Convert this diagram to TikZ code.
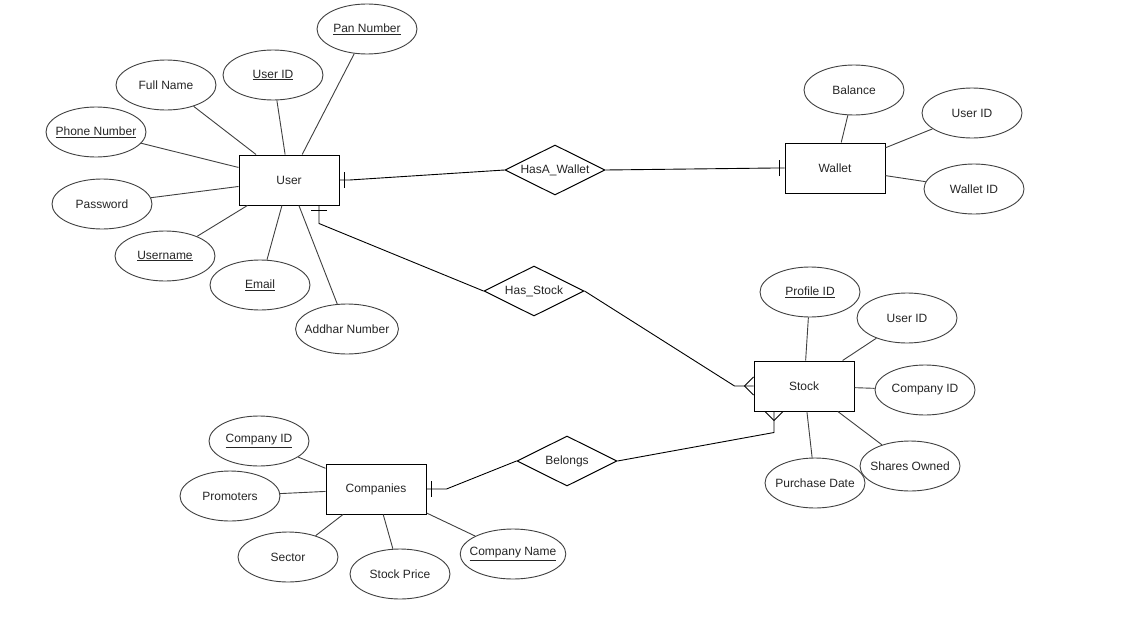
\documentclass[tikz,border=0pt]{standalone}
\usepackage{fontspec}
\setmainfont{Liberation Sans}
\usepackage{tikz}
\usetikzlibrary{calc,arrows.meta,positioning,shapes.geometric}

% ER end marks: single bar (one) and crow's foot (many)
\pgfdeclarearrow{
  name=erone,
  setup code={
    \pgfarrowssettipend{0pt}
    \pgfarrowssetlineend{0pt}
    \pgfarrowssetbackend{-6pt}
    \pgfarrowssetvisualbackend{-6pt}
    \pgfarrowshullpoint{0pt}{8pt}
    \pgfarrowshullpoint{0pt}{-8pt}
  },
  drawing code={
    \pgfpathmoveto{\pgfqpoint{-5pt}{-8pt}}
    \pgfpathlineto{\pgfqpoint{-5pt}{8pt}}
    \pgfusepathqstroke
  }
}
\pgfdeclarearrow{
  name=ermany,
  setup code={
    \pgfarrowssettipend{0pt}
    \pgfarrowssetlineend{0pt}
    \pgfarrowssetbackend{-9pt}
    \pgfarrowssetvisualbackend{-9pt}
    \pgfarrowshullpoint{0pt}{9pt}
    \pgfarrowshullpoint{0pt}{-9pt}
  },
  drawing code={
    \pgfpathmoveto{\pgfqpoint{0pt}{9pt}}
    \pgfpathlineto{\pgfqpoint{-9pt}{0pt}}
    \pgfpathlineto{\pgfqpoint{0pt}{-9pt}}
    \pgfusepathqstroke
  }
}

\tikzset{
  entity/.style={draw=black, line width=1pt, fill=white, minimum width=100pt,
    minimum height=50pt, inner sep=0pt, align=center},
  attrib/.style={ellipse, draw=black!75, line width=0.9pt, fill=white,
    minimum width=100pt, minimum height=50pt, inner xsep=-6pt, inner ysep=0pt,
    align=center},
  rel/.style={diamond, draw=black, line width=1pt, fill=white, aspect=2,
    minimum width=100pt, minimum height=50pt, inner sep=0pt},
  link/.style={draw=black!75, line width=0.9pt},
  card/.style={draw=black, line width=0.9pt}
}

\begin{document}
\begin{tikzpicture}[x=1pt, y=-1pt, font=\fontsize{12}{14}\selectfont, text=black!85]
  \fill[white] (0,0) rectangle (1142,618);
  \useasboundingbox (0,0) rectangle (1142,618);

  % entities
  \node[entity] (user) at (289,180) {User};
  \node[entity] (wallet) at (835,168) {Wallet};
  \node[entity] (stock) at (804,386) {Stock};
  \node[entity] (comp) at (376,489) {Companies};

  % relationships
  \node[rel] (haswallet) at (555,170) {HasA\_Wallet};
  \node[rel] (hasstock) at (534,291) {Has\_Stock};
  \node[rel] (belongs) at (567,461) {Belongs};

  % user attributes
  \node[attrib] (pan) at (367,29) {\underline{Pan Number}};
  \node[attrib] (uid) at (273,75) {\underline{User ID}};
  \node[attrib] (fname) at (166,85) {Full Name};
  \node[attrib] (phone) at (96,132) {\underline{Phone Number}};
  \node[attrib] (pwd) at (102,204) {Password};
  \node[attrib] (uname) at (165,256) {\underline{Username}};
  \node[attrib] (email) at (260,285) {\underline{Email}};
  \node[attrib] (addhar) at (347,329) {Addhar Number};

  % wallet attributes
  \node[attrib] (bal) at (854,90) {Balance};
  \node[attrib] (wuid) at (972,113) {User ID};
  \node[attrib] (wid) at (974,189) {Wallet ID};

  % stock attributes
  \node[attrib] (pid) at (810,292) {\underline{Profile ID}};
  \node[attrib] (suid) at (907,318) {User ID};
  \node[attrib] (scid) at (925,390) {Company ID};
  \node[attrib] (pdate) at (815,483) {Purchase Date};
  \node[attrib] (shares) at (910,466) {Shares Owned};

  % companies attributes
  \node[attrib] (cid) at (259,441) {\underline{Company ID}};
  \node[attrib] (prom) at (230,496) {Promoters};
  \node[attrib] (sector) at (288,557) {Sector};
  \node[attrib] (sprice) at (400,574) {Stock Price};
  \node[attrib] (cname) at (513,554) {\underline{Company Name}};

  \foreach \a in {pan,uid,fname,phone,pwd,uname,email,addhar}
    \draw[link] (\a) -- (user);
  \foreach \a in {bal,wuid,wid}
    \draw[link] (\a) -- (wallet);
  \foreach \a in {pid,suid,scid,pdate,shares}
    \draw[link] (\a) -- (stock);
  \foreach \a in {cid,prom,sector,sprice,cname}
    \draw[link] (\a) -- (comp);

  % relationship connectors
  \draw[card, {erone}-] (user.east) -- ++(10,0) -- (haswallet.west);
  \draw[card, {erone}-] (wallet.west) -- ++(-10,0) -- (haswallet.east);
  \draw[card, {erone}-] ($(user.south)+(30,0)$) -- ++(0,18) -- (hasstock.west);
  \draw[card, -{ermany}] (hasstock.east) -- ($(stock.west)+(-19,0)$) -- (stock.west);
  \draw[card, {ermany}-] ($(stock.south)+(-30,0)$) -- ++(0,21) -- (belongs.east);
  \draw[card, -{erone}] (belongs.west) -- ($(comp.east)+(20,0)$) -- (comp.east);
\end{tikzpicture}
\end{document}
